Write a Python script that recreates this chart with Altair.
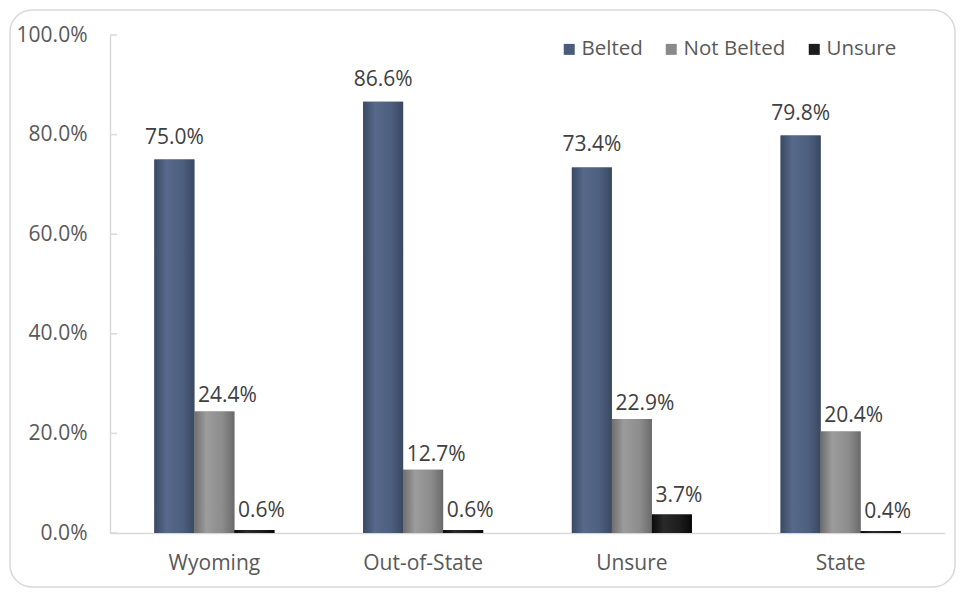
import altair as alt
import pandas as pd

categories = ["Wyoming", "Out-of-State", "Unsure", "State"]
series = ["Belted", "Not Belted", "Unsure"]
belted = [0.750, 0.866, 0.734, 0.798]
not_belted = [0.244, 0.127, 0.229, 0.204]
unsure = [0.006, 0.006, 0.037, 0.004]
y_ticks = [0.0, 0.2, 0.4, 0.6, 0.8, 1.0]

base_colors = ["#4a5c7a", "#8a8a8a", "#1c1c1c"]
grad_stops = [
    ["#3b4a63", "#56698a", "#4d5f7e", "#3a4860"],
    ["#6e6e6e", "#9c9c9c", "#8c8c8c", "#6a6a6a"],
    ["#0a0a0a", "#2a2a2a", "#1c1c1c", "#080808"],
]
label_dx = [0, 13, 7]
label_dy = [-22, -15, -19]

rows = []
for i, c in enumerate(categories):
    for s, vals in zip(series, [belted, not_belted, unsure]):
        rows.append({"category": c, "series": s, "value": vals[i]})
df = pd.DataFrame(rows)

FONT = "Open Sans"

x_enc = alt.X(
    "category:N",
    sort=categories,
    scale=alt.Scale(paddingInner=0.425, paddingOuter=0.2125),
    axis=alt.Axis(
        title=None, ticks=False, labelAngle=0, labelFontSize=21, labelColor="#595959",
        labelFont=FONT, labelPadding=19, domainColor="#d9d9d9", domainWidth=1.5,
    ),
)
xoff_enc = alt.XOffset("series:N", scale=alt.Scale(domain=series, paddingInner=0, paddingOuter=0))
y_enc = alt.Y(
    "value:Q",
    scale=alt.Scale(domain=[0, 1], nice=False, zero=True),
    axis=alt.Axis(
        title=None, values=y_ticks, format=".1%", grid=False, ticks=False, tickSize=0,
        labelFontSize=21, labelColor="#595959", labelFont=FONT, labelPadding=23,
        domainColor="#d9d9d9", domainWidth=1.5,
    ),
)

base = alt.Chart(df)

flat = base.mark_bar().encode(
    x=x_enc,
    xOffset=xoff_enc,
    y=y_enc,
    color=alt.Color(
        "series:N",
        scale=alt.Scale(domain=series, range=base_colors),
        legend=alt.Legend(
            title=None, orient="none", legendX=449, legendY=4, direction="horizontal",
            symbolType="square", symbolSize=121, symbolStrokeWidth=0,
            labelFontSize=20.5, labelColor="#595959", labelFont=FONT,
            labelOffset=2, columnPadding=18, padding=0,
        ),
    ),
)

grad_layers = []
text_layers = []
for s, stops, dx, dy in zip(series, grad_stops, label_dx, label_dy):
    g = alt.Gradient(
        gradient="linear", x1=0, x2=1, y1=0, y2=0,
        stops=[
            alt.GradientStop(color=stops[0], offset=0),
            alt.GradientStop(color=stops[1], offset=0.3),
            alt.GradientStop(color=stops[2], offset=0.7),
            alt.GradientStop(color=stops[3], offset=1),
        ],
    )
    grad_layers.append(
        base.transform_filter(alt.datum.series == s)
        .mark_bar(fill=g)
        .encode(x=x_enc, xOffset=xoff_enc, y=y_enc)
    )
    text_layers.append(
        base.transform_filter(alt.datum.series == s)
        .mark_text(dx=dx, dy=dy, baseline="middle", align="center",
                   font=FONT, fontSize=21, color="#404040")
        .encode(x=x_enc, xOffset=xoff_enc, y=y_enc,
                text=alt.Text("value:Q", format=".1%"))
    )

ticks = alt.Chart(pd.DataFrame({"value": y_ticks})).mark_rule(
    color="#d9d9d9", strokeWidth=1.5
).encode(y=alt.Y("value:Q"), x=alt.value(0), x2=alt.value(7))

border = alt.Chart(alt.Data(values=[{"a": 1}])).mark_rect(
    fill="transparent", stroke="#d9d9d9", strokeWidth=1.5, cornerRadius=22
).encode(x=alt.value(-100), x2=alt.value(845), y=alt.value(-25), y2=alt.value(552))

chart = alt.layer(border, flat, *grad_layers, ticks, *text_layers).properties(
    width=835,
    height=498,
    padding={"left": 110, "top": 35, "right": 17, "bottom": 59},
    autosize=alt.AutoSizeParams(type="none"),
    background="white",
).configure_view(stroke=None)

chart.save("out.html", embed_options={"renderer": "svg", "actions": False})
